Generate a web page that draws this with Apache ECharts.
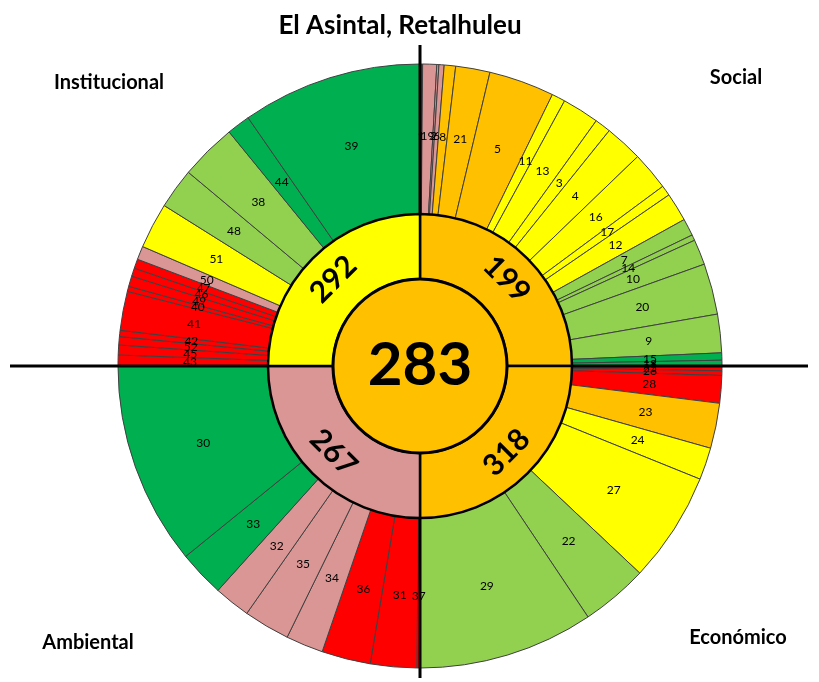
<!DOCTYPE html>
<html>
<head>
<meta charset="utf-8">
<script src="https://cdn.jsdelivr.net/npm/echarts@6/dist/echarts.min.js"></script>
<style>
html,body{margin:0;padding:0;background:#fff;}
#c{width:819px;height:682px;}
</style>
</head>
<body>
<div id="c"></div>
<script>
// ---- data ----
var title = 'El Asintal, Retalhuleu';
var totalValue = 283;
var dimensions = ['Social', 'Económico', 'Ambiental', 'Institucional'];
var dimensionScores = [199, 318, 267, 292];
var dimensionColors = ['orange', 'orange', 'pink', 'yellow'];

// outer ring: indicator id, angular share (degrees), colour class (clockwise from top)
var socialIds    = ['1','19','2','6','8','21','5','11','13','3','4','16','17','12','7','14','10','20','9','15','18'];
var socialShare  = [0.5,2.7,0.4,1.0,2.2,6.6,12.6,2.6,7.1,3.1,7.3,7.4,2.0,5.5,3.3,1.1,4.9,9.8,7.4,1.4,1.1];
var socialCol    = ['red','pink','pink','pink','orange','orange','orange','yellow','yellow','yellow','yellow','yellow','yellow','yellow','lgreen','lgreen','lgreen','lgreen','lgreen','dgreen','dgreen'];

var econIds      = ['25','26','28','23','24','27','22','29'];
var econShare    = [0.9,0.9,5.3,8.7,6.2,21.3,12.9,33.8];
var econCol      = ['red','red','red','orange','yellow','yellow','lgreen','lgreen'];

var ambIds       = ['37','31','36','34','35','32','33','30'];
var ambShare     = [0.6,8.9,9.4,7.2,8.9,7.0,8.9,39.1];
var ambCol       = ['red','red','red','pink','pink','pink','dgreen','dgreen'];

var instIds      = ['43','45','52','42','41','40','49','46','47','50','51','48','38','44','39'];
var instShare    = [2.1,1.9,1.6,1.2,7.5,1.0,2.0,1.6,1.8,2.6,8.8,7.8,10.9,4.5,34.7];
var instCol      = ['red','red','red','red','red','red','red','red','red','pink','yellow','lgreen','lgreen','dgreen','dgreen'];

var palette = {
  red: '#FF0000', pink: '#DA9694', orange: '#FFC000', yellow: '#FFFF00',
  lgreen: '#92D050', dgreen: '#00B050'
};

// ---- build ----
var outerData = [];
[[socialIds, socialShare, socialCol], [econIds, econShare, econCol],
 [ambIds, ambShare, ambCol], [instIds, instShare, instCol]].forEach(function (g) {
  for (var i = 0; i < g[0].length; i++) {
    outerData.push({ name: g[0][i], value: g[1][i], itemStyle: { color: palette[g[2][i]] } });
  }
});
var innerRot = [-45, 45, -45, 45];
var midData = dimensions.map(function (d, i) {
  return { name: d, value: 90, itemStyle: { color: palette[dimensionColors[i]] },
           label: { formatter: String(dimensionScores[i]), rotate: innerRot[i] } };
});

var cx = 420, cy = 366;
var font = 'Lato, "Open Sans", sans-serif';
var chart = echarts.init(document.getElementById('c'));
chart.setOption({
  animation: false,
  backgroundColor: '#fff',
  graphic: { elements: [
    { type: 'line', z: 3, silent: true, shape: { x1: 10, y1: cy, x2: 808, y2: cy }, style: { stroke: '#000', lineWidth: 3 } },
    { type: 'line', z: 3, silent: true, shape: { x1: cx, y1: 45, x2: cx, y2: 678 }, style: { stroke: '#000', lineWidth: 3 } },
    { type: 'text', z: 10, style: { x: 400, y: 26, text: title, textAlign: 'center', textVerticalAlign: 'middle', font: 'bold 26px ' + font, fill: '#000' } },
    { type: 'text', z: 10, style: { x: 109, y: 83, text: dimensions[3], textAlign: 'center', textVerticalAlign: 'middle', font: 'bold 20px ' + font, fill: '#000' } },
    { type: 'text', z: 10, style: { x: 736, y: 78, text: dimensions[0], textAlign: 'center', textVerticalAlign: 'middle', font: 'bold 20px ' + font, fill: '#000' } },
    { type: 'text', z: 10, style: { x: 88, y: 643, text: dimensions[2], textAlign: 'center', textVerticalAlign: 'middle', font: 'bold 20px ' + font, fill: '#000' } },
    { type: 'text', z: 10, style: { x: 738, y: 638, text: dimensions[1], textAlign: 'center', textVerticalAlign: 'middle', font: 'bold 20px ' + font, fill: '#000' } }
  ]},
  series: [
    {
      type: 'pie', z: 2, silent: true, center: [cx, cy], radius: [152, 302],
      startAngle: 90, clockwise: true, avoidLabelOverlap: false, minShowLabelAngle: 0,
      itemStyle: { borderColor: '#404040', borderWidth: 1 },
      label: { position: 'inside', formatter: '{b}', color: '#000', fontSize: 12, fontFamily: font },
      labelLayout: { hideOverlap: false },
      labelLine: { show: false },
      data: outerData
    },
    {
      type: 'pie', z: 5, silent: true, center: [cx, cy], radius: [87, 152],
      startAngle: 90, clockwise: true, avoidLabelOverlap: false,
      itemStyle: { borderColor: '#000', borderWidth: 2.5 },
      label: { position: 'inside', color: '#000', fontSize: 30, fontWeight: 'bold', fontFamily: font },
      labelLayout: { hideOverlap: false },
      labelLine: { show: false },
      data: midData
    },
    {
      type: 'pie', z: 6, silent: true, center: [cx, cy], radius: [0, 87],
      startAngle: 90, avoidLabelOverlap: false,
      itemStyle: { borderColor: '#000', borderWidth: 3 },
      label: { position: 'center', formatter: String(totalValue), color: '#000', fontSize: 60, fontWeight: 'bold', fontFamily: font },
      labelLine: { show: false },
      data: [{ name: 'Total', value: totalValue, itemStyle: { color: palette.orange } }]
    }
  ]
});
</script>
</body>
</html>
